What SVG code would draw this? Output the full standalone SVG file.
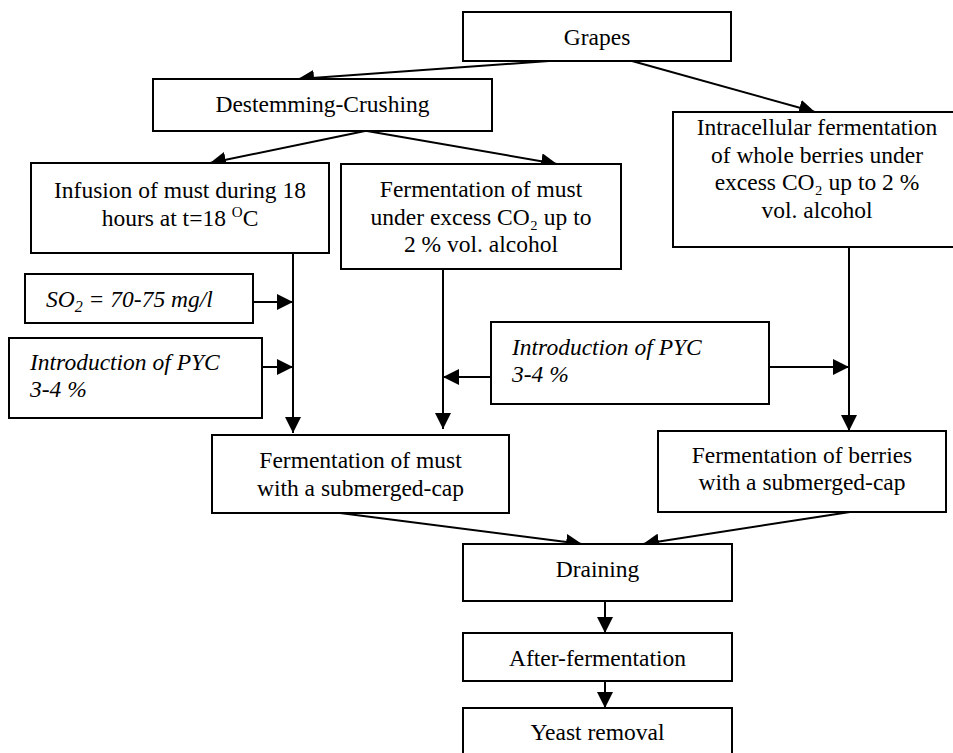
<svg xmlns="http://www.w3.org/2000/svg" width="953" height="753" viewBox="0 0 953 753">
<defs>
<marker id="ah" viewBox="0 0 16 16" markerWidth="16" markerHeight="16" refX="16" refY="8" orient="auto" markerUnits="userSpaceOnUse">
<path d="M0,0 L16,8 L0,16 z" fill="#000"/>
</marker>
<style>
rect{fill:#fff;stroke:#000;stroke-width:2}
text{font-size:23.5px;fill:#000}
.c{text-anchor:middle}
.i{font-style:italic}
#connectors line{stroke:#000;stroke-width:2;fill:none}
.a{marker-end:url(#ah)}
</style>
</defs>
<rect x="0" y="0" width="953" height="753" style="fill:#fff;stroke:none"/>
<g id="connectors">
<line class="a" x1="549" y1="61" x2="298" y2="79"/>
<line class="a" x1="632" y1="61" x2="815" y2="112"/>
<line class="a" x1="365" y1="131" x2="210" y2="163"/>
<line class="a" x1="367" y1="131" x2="557" y2="164"/>
<line class="a" x1="293" y1="253" x2="293" y2="433"/>
<line class="a" x1="253" y1="302" x2="293" y2="302"/>
<line class="a" x1="262" y1="367" x2="293" y2="367"/>
<line class="a" x1="443" y1="269" x2="443" y2="429"/>
<line class="a" x1="491" y1="377" x2="443" y2="377"/>
<line class="a" x1="769" y1="367" x2="849" y2="367"/>
<line class="a" x1="849" y1="247" x2="849" y2="431"/>
<line class="a" x1="340" y1="513" x2="582" y2="544"/>
<line class="a" x1="850" y1="512" x2="643" y2="544"/>
<line class="a" x1="605" y1="601" x2="605" y2="633"/>
<line class="a" x1="605" y1="681" x2="605" y2="708"/>
</g>
<g font-family="Liberation Serif">
<g id="grapes">
<rect x="463" y="12" width="268" height="49"/>
<text class="c" x="597" y="45">Grapes</text>
</g>
<g id="destemming">
<rect x="153" y="79" width="339" height="52"/>
<text class="c" x="322.5" y="112">Destemming-Crushing</text>
</g>
<g id="intracellular">
<rect x="673" y="112" width="290" height="135"/>
<text class="c" x="817" y="135">Intracellular fermentation</text>
<text class="c" x="817" y="162.5">of whole berries under</text>
<text class="c" x="817" y="190">excess CO₂ up to 2 %</text>
<text class="c" x="817" y="217.5">vol. alcohol</text>
</g>
<g id="infusion">
<rect x="31" y="163" width="298" height="90"/>
<text class="c" x="180" y="198">Infusion of must during 18</text>
<text class="c" x="180" y="225.5">hours at t=18 <tspan font-size="15" dy="-9">O</tspan><tspan dy="9">C</tspan></text>
</g>
<g id="ferm-must-co2">
<rect x="341" y="164" width="280" height="105"/>
<text class="c" x="481" y="197">Fermentation of must</text>
<text class="c" x="481" y="224.5">under excess CO₂ up to</text>
<text class="c" x="481" y="252">2 % vol. alcohol</text>
</g>
<g id="so2">
<rect x="25" y="274" width="228" height="49"/>
<text class="i" x="46" y="307">SO<tspan font-size="16" dy="5">2</tspan><tspan dy="-5"> = 70-75 mg/l</tspan></text>
</g>
<g id="pyc-left">
<rect x="9" y="338" width="253" height="80"/>
<text class="i" x="30" y="370">Introduction of PYC</text>
<text class="i" x="30" y="397">3-4 %</text>
</g>
<g id="pyc-middle">
<rect x="491" y="322" width="278" height="82"/>
<text class="i" x="512" y="355">Introduction of PYC</text>
<text class="i" x="512" y="382">3-4 %</text>
</g>
<g id="ferm-must-cap">
<rect x="212" y="435" width="297" height="78"/>
<text class="c" x="360.5" y="468">Fermentation of must</text>
<text class="c" x="360.5" y="496">with a submerged-cap</text>
</g>
<g id="ferm-berries-cap">
<rect x="658" y="431" width="288" height="81"/>
<text class="c" x="802" y="463">Fermentation of berries</text>
<text class="c" x="802" y="490">with a submerged-cap</text>
</g>
<g id="draining">
<rect x="463" y="544" width="269" height="57"/>
<text class="c" x="597.5" y="577">Draining</text>
</g>
<g id="after-fermentation">
<rect x="463" y="633" width="269" height="48"/>
<text class="c" x="597.5" y="666">After-fermentation</text>
</g>
<g id="yeast-removal">
<rect x="463" y="708" width="269" height="60"/>
<text class="c" x="597.5" y="740">Yeast removal</text>
</g>
</g>
</svg>
